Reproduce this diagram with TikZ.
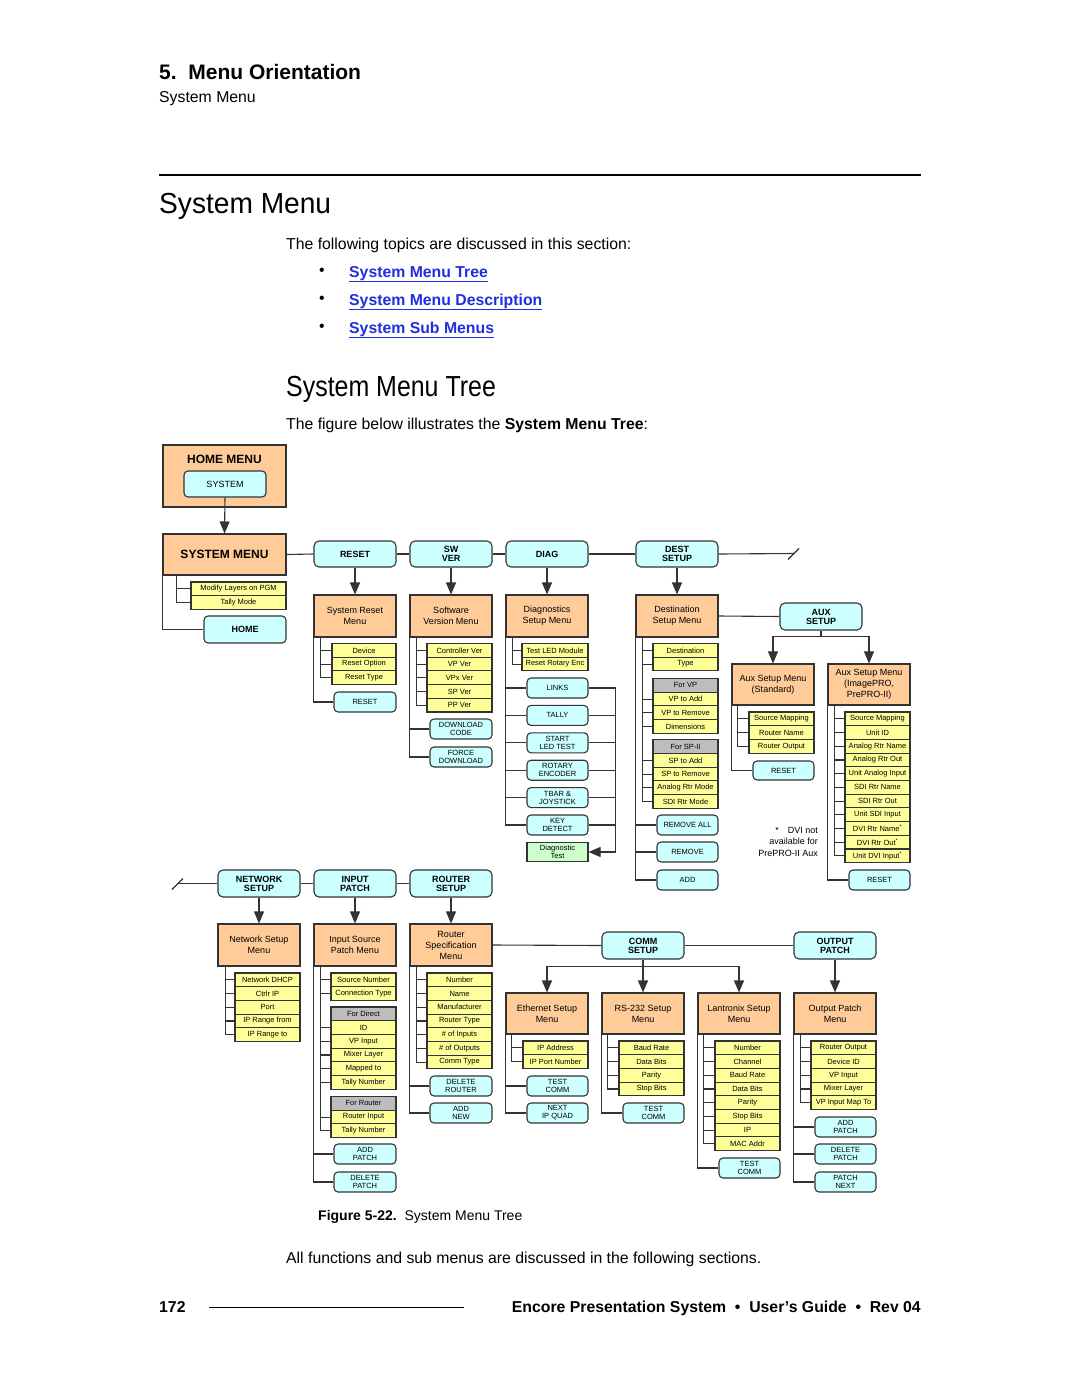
\documentclass[tikz,border=0pt]{standalone}
\usepackage{fontspec}
\setmainfont{Liberation Sans}
\usetikzlibrary{arrows.meta}
\definecolor{orangef}{HTML}{FFCC99}
\definecolor{cyanf}{HTML}{CCFFFF}
\definecolor{yellowf}{HTML}{FFFF99}
\definecolor{grayf}{HTML}{BDBDBD}
\definecolor{greenf}{HTML}{CCFFCC}
\definecolor{linec}{HTML}{333333}
\definecolor{linkblue}{HTML}{1F2FE0}
\newcommand\bodyf{\fontsize{15.8}{18}\selectfont}
\newcommand\Bx[7]{\node[#1, minimum width={(#5)-(#3)}, minimum height={(#6)-(#4)}] (#2) at ({((#3)+(#5))/2},{((#4)+(#6))/2}) {#7};}
\newcommand\Stk[6]{\foreach \itm [count=\cnt] in {#6}{\node[#5, minimum width={(#3)-(#2)}, minimum height=13.7] (#1\cnt) at ({((#2)+(#3))/2},{(#4)+13.7*(\cnt-0.5)}) {\itm};}}
\newcommand\Tk[3]{\foreach \nn in {#3} \draw[conn] ([xshift=#2]#1.south west) |- (\nn.west);}
\newcommand\Ot[2]{\foreach \nn in {#2} \draw[conn] (#1.south west) |- (\nn.west);}
\begin{document}
\begin{tikzpicture}[x=1pt,y=-1pt,
  menu/.style={draw=linec, line width=1.1pt, fill=orangef, inner sep=0pt, align=center, font=\fontsize{9}{11}\selectfont},
  topb/.style={draw=linec, line width=1.1pt, fill=cyanf, rounded corners=5pt, inner sep=0pt, align=center, font=\fontsize{9}{9}\selectfont\bfseries},
  btn/.style={draw=linec, line width=1.1pt, fill=cyanf, rounded corners=4pt, inner sep=0pt, align=center, font=\fontsize{7.5}{8}\selectfont},
  item/.style={draw=linec, line width=1.1pt, fill=yellowf, inner sep=0pt, font=\fontsize{7.5}{8}\selectfont},
  hdr/.style={item, fill=grayf},
  conn/.style={draw=linec, line width=1.1pt},
  arr/.style={conn, -{Triangle[width=10pt,length=12pt]}}]
\useasboundingbox (0,0) rectangle (1080,1397);
% ---------- page text ----------
\node[anchor=base west, inner sep=0pt, font=\fontsize{21}{21}\selectfont\bfseries] (t1) at (159,79) {5.\ \ Menu Orientation};
\node[anchor=base west, inner sep=0pt, font=\bodyf] (t2) at (159,102) {System Menu};
\draw[line width=2pt] (159,175) -- (921,175);
\node[anchor=base west, inner sep=0pt, xscale=0.97, font=\fontsize{29}{29}\selectfont] (h1) at (159,213) {System Menu};
\node[anchor=base west, inner sep=0pt, font=\bodyf] (p1) at (286,249) {The following topics are discussed in this section:};
\foreach \yy/\tx [count=\cnt] in {277/System Menu Tree, 305/System Menu Description, 333/System Sub Menus}{
  \node[anchor=base, inner sep=0pt, font=\bodyf] (b\cnt) at (322,\yy-2) {•};
  \node[anchor=base west, inner sep=0pt, font=\bodyf\bfseries, text=linkblue] (l\cnt) at (349,\yy) {\underline{\tx}};
}
\node[anchor=base west, inner sep=0pt, xscale=0.86, font=\fontsize{29}{29}\selectfont] (h2) at (286,396) {System Menu Tree};
\node[anchor=base west, inner sep=0pt, font=\bodyf] (p2) at (286,429) {The figure below illustrates the \textbf{System Menu Tree}:};
\node[anchor=base west, inner sep=0pt, font=\fontsize{14}{14}\selectfont] (cap) at (318,1220) {\textbf{Figure 5-22.}\ \ System Menu Tree};
\node[anchor=base west, inner sep=0pt, font=\bodyf] (p3) at (286,1263) {All functions and sub menus are discussed in the following sections.};
\node[anchor=base west, inner sep=0pt, font=\bodyf\bfseries] (pg) at (159,1312) {172};
\draw[line width=0.6pt] (209,1307) -- (464,1307);
\node[anchor=base east, inner sep=0pt, font=\bodyf\bfseries] (ft) at (921,1312) {Encore Presentation System\ \ •\ \ User’s Guide\ \ •\ \ Rev 04};
% ---------- home / system menu ----------
\Bx{menu}{home}{163}{445}{286}{507}{}
\node[font=\fontsize{12}{12}\selectfont\bfseries] (homet) at (224.5,459) {HOME MENU};
\Bx{btn, font=\fontsize{9}{9}\selectfont}{system}{184}{471}{266}{497}{SYSTEM}
\Bx{menu, font=\fontsize{12}{12}\selectfont\bfseries}{sysm}{163}{534}{286}{575}{SYSTEM MENU}
\draw[arr] (system.south) -- (sysm.north);
\Stk{sm}{191}{286}{582}{item}{Modify Layers on PGM, Tally Mode}
\Bx{btn, font=\fontsize{9}{9}\selectfont\bfseries}{homeb}{204}{616}{286}{643}{HOME}
\Tk{sysm}{14}{sm1,sm2}
\Ot{sysm}{homeb}
% ---------- top row ----------
\Bx{topb}{reset}{314}{541}{396}{567}{RESET}
\Bx{topb}{swver}{410}{541}{492}{567}{SW\\VER}
\Bx{topb}{diag}{506}{541}{588}{567}{DIAG}
\Bx{topb}{dest}{636}{541}{718}{567}{DEST\\SETUP}
\coordinate (brR) at (794,553.5);
\draw[conn] (sysm.east) -- (reset.west);
\draw[conn] (reset.east) -- (swver.west);
\draw[conn] (swver.east) -- (diag.west);
\draw[conn] (diag.east) -- (dest.west);
\draw[conn] (dest.east) -- (brR);
\draw[conn] ([shift={(-6,6)}]brR) -- ([shift={(5,-5)}]brR);
\Bx{menu}{rsm}{314}{595}{396}{637}{System Reset\\Menu}
\Bx{menu}{swm}{410}{595}{492}{637}{Software\\Version Menu}
\Bx{menu}{dgm}{506}{595}{588}{637}{Diagnostics\\Setup Menu}
\Bx{menu}{dsm}{636}{595}{718}{637}{Destination\\Setup Menu}
\draw[arr] (reset.south) -- (rsm.north);
\draw[arr] (swver.south) -- (swm.north);
\draw[arr] (diag.south) -- (dgm.north);
\draw[arr] (dest.south) -- (dsm.north);
% reset column
\Stk{rs}{332}{396}{643.5}{item}{Device, Reset Option, Reset Type}
\Bx{btn}{rsb}{334}{692}{396}{712}{RESET}
\Tk{rsm}{7}{rs1,rs2,rs3}
\Ot{rsm}{rsb}
% sw column
\Stk{sw}{427}{492}{643.5}{item}{Controller Ver, VP Ver, VPx Ver, SP Ver, PP Ver}
\Bx{btn}{dlc}{430}{719}{492}{739}{DOWNLOAD\\CODE}
\Bx{btn}{fdl}{430}{747}{492}{767}{FORCE\\DOWNLOAD}
\Tk{swm}{7}{sw1,sw2,sw3,sw4,sw5}
\Ot{swm}{dlc,fdl}
% diag column
\Stk{dg}{522}{588}{643.5}{item}{Test LED Module, Reset Rotary Enc}
\Bx{btn}{links}{527}{678}{588}{698}{LINKS}
\Bx{btn}{tally}{527}{705.4}{588}{725.4}{TALLY}
\Bx{btn}{sled}{527}{732.8}{588}{752.8}{START\\LED TEST}
\Bx{btn}{rotary}{527}{760.2}{588}{780.2}{ROTARY\\ENCODER}
\Bx{btn}{tbar}{527}{787.6}{588}{807.6}{TBAR \&\\JOYSTICK}
\Bx{btn}{keyd}{527}{815}{588}{835}{KEY\\DETECT}
\Bx{item, fill=greenf, align=center}{dtest}{527}{842.5}{588}{861.5}{Diagnostic\\Test}
\Tk{dgm}{7}{dg1,dg2}
\Ot{dgm}{links,tally,sled,rotary,tbar,keyd}
\draw[arr] (links.east) -- ++(27,0) |- (dtest.east);
\foreach \nn in {tally,sled,rotary,tbar,keyd} \draw[conn] (\nn.east) -- ++(27,0);
% dest column
\Stk{ds}{653}{718}{643.5}{item}{Destination, Type}
\Bx{hdr}{forvp}{653}{678.5}{718}{692.2}{For VP}
\Stk{vp}{653}{718}{692.2}{item}{VP to Add, VP to Remove, Dimensions}
\Bx{hdr}{forsp}{653}{739.8}{718}{753.5}{For SP-II}
\Stk{sp}{653}{718}{753.5}{item}{SP to Add, SP to Remove, Analog Rtr Mode, SDI Rtr Mode}
\Bx{btn}{rmall}{657}{815}{718}{835}{REMOVE ALL}
\Bx{btn}{rmv}{657}{842}{718}{862}{REMOVE}
\Bx{btn}{addb}{657}{870}{718}{890}{ADD}
\Tk{dsm}{7}{ds1,ds2,vp1,vp2,vp3,sp1,sp2,sp3,sp4}
\Ot{dsm}{rmall,rmv,addb}
% aux
\Bx{topb}{aux}{780}{603}{862}{630}{AUX\\SETUP}
\draw[conn] (dsm.east) -- (aux.west);
\Bx{menu}{axs}{732}{664}{814}{705}{Aux Setup Menu\\(Standard)}
\Bx{menu}{axi}{828}{664}{910}{705}{Aux Setup Menu\\(ImagePRO,\\PrePRO-II)}
\draw[conn] (aux.south) -- ([yshift=-6pt]aux.south) coordinate (auxj);
\draw[arr] (auxj) -| (axs.north);
\draw[arr] (auxj) -| (axi.north);
\Stk{as}{749}{814}{712}{item}{Source Mapping, Router Name, Router Output}
\Bx{btn}{asb}{753}{761}{814}{780}{RESET}
\Tk{axs}{6}{as1,as2,as3}
\Ot{axs}{asb}
\Stk{ai}{845}{910}{712}{item}{Source Mapping, Unit ID, Analog Rtr Name, Analog Rtr Out, Unit Analog Input, SDI Rtr Name, SDI Rtr Out, Unit SDI Input, DVI Rtr Name\textsuperscript{*}, DVI Rtr Out\textsuperscript{*}, Unit DVI Input\textsuperscript{*}}
\Bx{btn}{aib}{849}{870}{910}{890}{RESET}
\Tk{axi}{7}{ai1,ai2,ai3,ai4,ai5,ai6,ai7,ai8,ai9,ai10,ai11}
\Ot{axi}{aib}
\node[anchor=north east, align=right, inner sep=0pt, font=\fontsize{9}{11.5}\selectfont] (note) at (818,827) {*\quad DVI not\\available for\\PrePRO-II Aux};
% ---------- second row ----------
\coordinate (brL) at (177,883.5);
\Bx{topb}{net}{218}{870}{300}{897}{NETWORK\\SETUP}
\Bx{topb}{inp}{314}{870}{396}{897}{INPUT\\PATCH}
\Bx{topb}{rtr}{410}{870}{492}{897}{ROUTER\\SETUP}
\draw[conn] (brL) -- (net.west);
\draw[conn] ([shift={(-5,6)}]brL) -- ([shift={(6,-5)}]brL);
\draw[conn] (net.east) -- (inp.west);
\draw[conn] (inp.east) -- (rtr.west);
\Bx{menu}{nsm}{218}{924}{300}{966}{Network Setup\\Menu}
\Bx{menu}{ism}{314}{924}{396}{966}{Input Source\\Patch Menu}
\Bx{menu}{rsp}{410}{924}{492}{966}{Router\\Specification\\Menu}
\draw[arr] (net.south) -- (nsm.north);
\draw[arr] (inp.south) -- (ism.north);
\draw[arr] (rtr.south) -- (rsp.north);
% network
\Stk{nw}{235}{300}{973}{item}{Network DHCP, Ctrlr IP, Port, IP Range from, IP Range to}
\Tk{nsm}{8}{nw1,nw2,nw3,nw4,nw5}
% input patch
\Stk{is}{331}{396}{973}{item}{Source Number, Connection Type}
\Bx{hdr}{fdir}{331}{1007}{396}{1020.7}{For Direct}
\Stk{id}{331}{396}{1020.7}{item}{ID, VP Input, Mixer Layer, Mapped to, Tally Number}
\Bx{hdr}{frtr}{331}{1096.5}{396}{1110.2}{For Router}
\Stk{ir}{331}{396}{1110.2}{item}{Router Input, Tally Number}
\Bx{btn}{iap}{334}{1144}{396}{1164}{ADD\\PATCH}
\Bx{btn}{idp}{334}{1172}{396}{1192}{DELETE\\PATCH}
\Tk{ism}{7}{is1,is2,id1,id2,id3,id4,id5,ir1,ir2}
\Ot{ism}{iap,idp}
% router
\Stk{rt}{427}{492}{973}{item}{Number, Name, Manufacturer, Router Type, \# of Inputs, \# of Outputs, Comm Type}
\Bx{btn}{rdr}{430}{1076}{492}{1096}{DELETE\\ROUTER}
\Bx{btn}{ran}{430}{1103}{492}{1123}{ADD\\NEW}
\Tk{rsp}{7}{rt1,rt2,rt3,rt4,rt5,rt6,rt7}
\Ot{rsp}{rdr,ran}
% comm / output
\Bx{topb}{comm}{602}{932}{684}{959}{COMM\\SETUP}
\Bx{topb}{outp}{794}{932}{876}{959}{OUTPUT\\PATCH}
\draw[conn] (rsp.east) -- (comm.west);
\draw[conn] (comm.east) -- (outp.west);
\Bx{menu}{eth}{506}{993}{588}{1034}{Ethernet Setup\\Menu}
\Bx{menu}{rs2}{602}{993}{684}{1034}{RS-232 Setup\\Menu}
\Bx{menu}{lan}{698}{993}{780}{1034}{Lantronix Setup\\Menu}
\Bx{menu}{opm}{794}{993}{876}{1034}{Output Patch\\Menu}
\draw[conn] (comm.south) -- ([yshift=-7pt]comm.south) coordinate (cj);
\draw[arr] (cj) -| (eth.north);
\draw[arr] (cj) -- (rs2.north);
\draw[arr] (cj) -| (lan.north);
\draw[arr] (outp.south) -- (opm.north);
\Stk{et}{523}{588}{1041}{item}{IP Address, IP Port Number}
\Bx{btn}{etc}{527}{1076}{588}{1096}{TEST\\COMM}
\Bx{btn}{etn}{527}{1103}{588}{1123}{NEXT\\IP QUAD}
\Tk{eth}{6}{et1,et2}
\Ot{eth}{etc,etn}
\Stk{rr}{619}{684}{1041}{item}{Baud Rate, Data Bits, Parity, Stop Bits}
\Bx{btn}{rrc}{623}{1103}{684}{1123}{TEST\\COMM}
\Tk{rs2}{6}{rr1,rr2,rr3,rr4}
\Ot{rs2}{rrc}
\Stk{ln}{715}{780}{1041}{item}{Number, Channel, Baud Rate, Data Bits, Parity, Stop Bits, IP, MAC Addr}
\Bx{btn}{lnc}{719}{1158}{780}{1178}{TEST\\COMM}
\Tk{lan}{6}{ln1,ln2,ln3,ln4,ln5,ln6,ln7,ln8}
\Ot{lan}{lnc}
\Stk{op}{811}{876}{1041}{item}{Router Output, Device ID, VP Input, Mixer Layer, VP Input Map To}
\Bx{btn}{opa}{815}{1117}{876}{1137}{ADD\\PATCH}
\Bx{btn}{opd}{815}{1144}{876}{1164}{DELETE\\PATCH}
\Bx{btn}{opn}{815}{1172}{876}{1192}{PATCH\\NEXT}
\Tk{opm}{7}{op1,op2,op3,op4,op5}
\Ot{opm}{opa,opd,opn}
\end{tikzpicture}
\end{document}
